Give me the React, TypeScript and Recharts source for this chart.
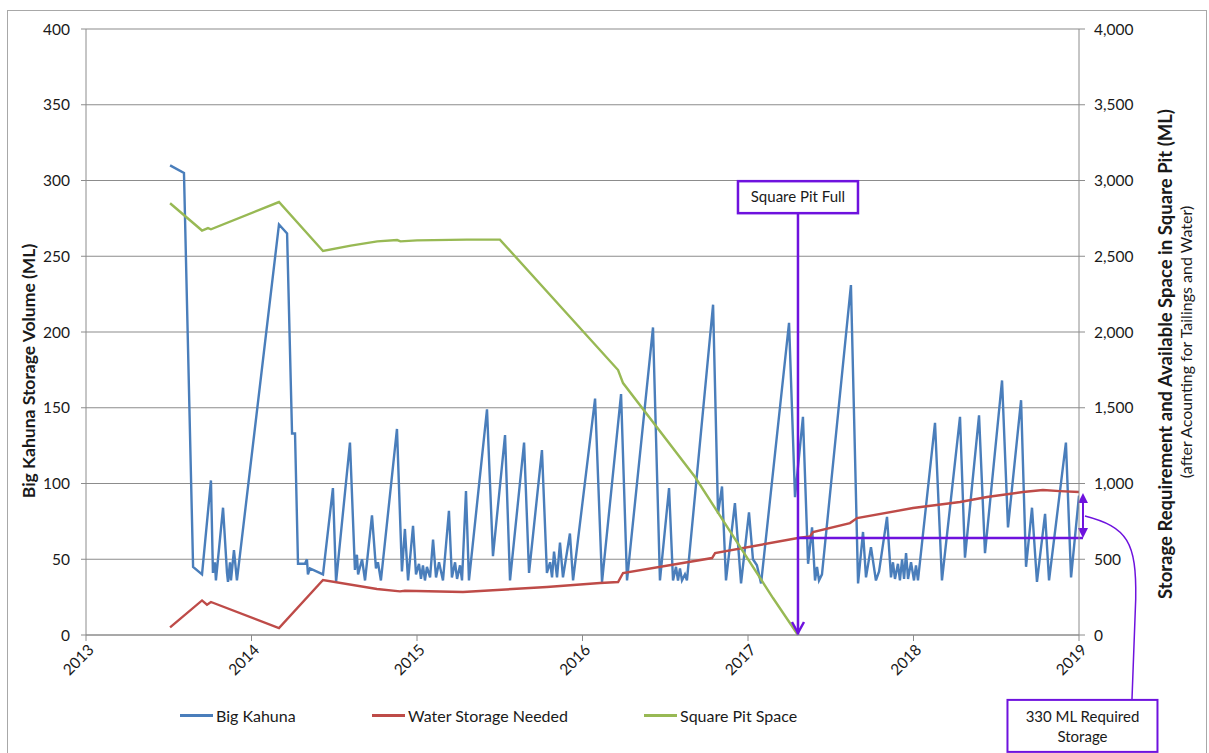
import React from 'react';
import {
  LineChart,
  Line,
  XAxis,
  YAxis,
  CartesianGrid,
  Legend,
  ReferenceLine,
  ReferenceDot,
} from 'recharts';

// ---------- data ----------
const yearTicks = [2013, 2014, 2015, 2016, 2017, 2018, 2019];
const leftTicks = [0, 50, 100, 150, 200, 250, 300, 350, 400];
const rightTicks = [0, 500, 1000, 1500, 2000, 2500, 3000, 3500, 4000];

const kahunaYears = [
  2013.508, 2013.592, 2013.647, 2013.701, 2013.755, 2013.767, 2013.779, 2013.785, 2013.828, 2013.852,
  2013.858, 2013.87, 2013.876, 2013.894, 2013.912, 2014.166, 2014.215, 2014.245, 2014.263, 2014.281,
  2014.323, 2014.335, 2014.341, 2014.353, 2014.432, 2014.492, 2014.511, 2014.595, 2014.625, 2014.637,
  2014.644, 2014.668, 2014.686, 2014.728, 2014.752, 2014.764, 2014.782, 2014.879, 2014.909, 2014.927,
  2014.946, 2014.976, 2014.994, 2015.012, 2015.024, 2015.036, 2015.048, 2015.06, 2015.079, 2015.097,
  2015.115, 2015.133, 2015.157, 2015.193, 2015.211, 2015.23, 2015.242, 2015.26, 2015.272, 2015.296,
  2015.314, 2015.423, 2015.459, 2015.532, 2015.562, 2015.647, 2015.677, 2015.755, 2015.785, 2015.804,
  2015.816, 2015.828, 2015.846, 2015.864, 2015.882, 2015.924, 2015.943, 2016.076, 2016.118, 2016.233,
  2016.269, 2016.426, 2016.468, 2016.523, 2016.547, 2016.565, 2016.577, 2016.589, 2016.601, 2016.619,
  2016.631, 2016.789, 2016.819, 2016.843, 2016.867, 2016.921, 2016.958, 2017.006, 2017.03, 2017.054,
  2017.079, 2017.248, 2017.284, 2017.332, 2017.363, 2017.387, 2017.405, 2017.417, 2017.429, 2017.447,
  2017.622, 2017.665, 2017.695, 2017.713, 2017.743, 2017.773, 2017.792, 2017.84, 2017.864, 2017.876,
  2017.888, 2017.906, 2017.918, 2017.931, 2017.943, 2017.955, 2017.967, 2017.985, 2018.003, 2018.015,
  2018.027, 2018.13, 2018.172, 2018.281, 2018.311, 2018.396, 2018.432, 2018.535, 2018.571, 2018.65,
  2018.68, 2018.716, 2018.746, 2018.795, 2018.819, 2018.921, 2018.952, 2019.0,
];
const kahunaValues = [
  310, 305, 45, 40, 102, 41, 48, 36, 84, 41,
  35, 48, 36, 56, 36, 271, 265, 133, 133, 47,
  47, 50, 40, 44, 40, 97, 35, 127, 43, 53,
  40, 50, 36, 79, 44, 48, 36, 136, 42, 70,
  36, 72, 40, 47, 37, 46, 36, 45, 38, 63,
  38, 48, 36, 82, 38, 48, 37, 46, 36, 95,
  36, 149, 52, 132, 36, 127, 41, 122, 41, 48,
  38, 55, 38, 61, 38, 67, 36, 156, 35, 159,
  36, 203, 36, 97, 36, 45, 36, 44, 36, 40,
  36, 218, 80, 98, 36, 87, 34, 81, 50, 46,
  34, 206, 91, 144, 47, 71, 36, 45, 36, 40,
  231, 34, 68, 38, 58, 36, 42, 78, 38, 48,
  37, 47, 36, 50, 37, 54, 37, 48, 36, 46,
  36, 140, 36, 144, 51, 145, 54, 168, 71, 155,
  45, 84, 35, 80, 36, 127, 38, 92,
];

const waterYears = [
  2013.508, 2013.701, 2013.731, 2013.755, 2014.166, 2014.432, 2014.758, 2014.897, 2014.927, 2015.278,
  2015.785, 2016.106, 2016.215, 2016.245, 2016.783, 2016.801, 2017.302, 2017.375, 2017.393, 2017.616,
  2017.659, 2017.997, 2018.281, 2018.444, 2018.661, 2018.782, 2018.885, 2019.0,
];
const waterValues = [
  50, 228, 200, 218, 45, 363, 304, 288, 292, 284,
  317, 343, 350, 409, 508, 541, 640, 650, 680, 739,
  772, 838, 878, 911, 944, 957, 950, 944,
];

const pitYears = [
  2013.508, 2013.701, 2013.737, 2013.755, 2014.166, 2014.432, 2014.6, 2014.76, 2014.88, 2014.9,
  2015.0, 2015.3, 2015.501, 2016.215, 2016.245, 2016.68, 2017.151, 2017.302,
];
const pitValues = [
  2850, 2670, 2686, 2678, 2858, 2535, 2570, 2598, 2607, 2598,
  2605, 2610, 2610, 1749, 1663, 1043, 244, 0,
];

const seriesNames = ['Big Kahuna', 'Water Storage Needed', 'Square Pit Space'];

// annotation values
const pitFullYear = 2017.302;
const pitFullLineTop = 278; // left axis
const pitFullBoxCenter = 289; // left axis
const requiredLow = 640; // right axis
const requiredHigh = 937; // right axis
const requiredArrowYear = 2019.024;
const calloutStart = { x: 2019.036, y: 785 };
const calloutEnd = { x: 2019.32, y: -429 };
const requiredBoxCenter = { x: 2019.021, y: -600 };

const kahunaData = kahunaYears.map((x, i) => ({ x, y: kahunaValues[i] }));
const waterData = waterYears.map((x, i) => ({ x, y: waterValues[i] }));
const pitData = pitYears.map((x, i) => ({ x, y: pitValues[i] }));

// ---------- styles ----------
const FONT = 'Lato, "Open Sans", sans-serif';
const BLUE = '#4A7EBB';
const RED = '#BE4B48';
const GREEN = '#98B954';
const PURPLE = '#6E12DE';
const GRID = '#8C8C8C';
const TEXT = '#1a1a1a';

const XTick = (props: any) => {
  const { x, y, payload } = props;
  const ax = x + 5;
  const ay = y + 4;
  return (
    <text
      x={ax}
      y={ay}
      transform={`rotate(-45 ${ax} ${ay})`}
      textAnchor="end"
      dy="0.35em"
      fontSize={15.5}
      fontFamily={FONT}
      fill={TEXT}
    >
      {payload.value}
    </text>
  );
};

const LeftTitle = () => (
  <text
    x={0}
    y={0}
    transform="translate(35 371) rotate(-90)"
    textAnchor="middle"
    fontSize={17.5}
    fontWeight={700}
    fontFamily={FONT}
    fill={TEXT}
  >
    Big Kahuna Storage Volume (ML)
  </text>
);

const RightTitle = () => (
  <g>
    <text
      x={0}
      y={0}
      transform="translate(1172 354) rotate(-90)"
      textAnchor="middle"
      fontSize={18.5}
      fontWeight={700}
      fontFamily={FONT}
      fill={TEXT}
    >
      Storage Requirement and Available Space in Square Pit (ML)
    </text>
    <text
      x={0}
      y={0}
      transform="translate(1192 342) rotate(-90)"
      textAnchor="middle"
      fontSize={16}
      fontFamily={FONT}
      fill={TEXT}
    >
      (after Acounting for Tailings and Water)
    </text>
  </g>
);

const DownArrow = (p: any) => {
  const { x1, y1, x2, y2 } = p;
  return (
    <g>
      <line x1={x1} y1={y1} x2={x2} y2={y2} stroke={PURPLE} strokeWidth={2.5} />
      <polyline
        points={`${x2 - 6},${y2 - 13} ${x2},${y2 - 2} ${x2 + 6},${y2 - 13}`}
        fill="none"
        stroke={PURPLE}
        strokeWidth={2.5}
      />
    </g>
  );
};

const PlainLine = (p: any) => {
  const { x1, y1, x2, y2 } = p;
  return <line x1={x1} y1={y1} x2={x2} y2={y2} stroke={PURPLE} strokeWidth={2.5} />;
};

const DoubleArrow = (p: any) => {
  const { x1, y1, x2, y2 } = p;
  const top = Math.min(y1, y2);
  const bot = Math.max(y1, y2);
  const x = x1;
  return (
    <g>
      <line x1={x} y1={top + 8} x2={x2} y2={bot - 8} stroke={PURPLE} strokeWidth={2} />
      <polygon points={`${x},${top} ${x - 5},${top + 10} ${x + 5},${top + 10}`} fill={PURPLE} />
      <polygon points={`${x},${bot} ${x - 5},${bot - 10} ${x + 5},${bot - 10}`} fill={PURPLE} />
    </g>
  );
};

const Callout = (p: any) => {
  const { x1, y1, x2, y2 } = p;
  const dx = x2 - x1;
  const dy = y2 - y1;
  const d = `M ${x1} ${y1} C ${x1 + 0.9 * dx} ${y1 + 0.06 * dy}, ${x1 + 1.1 * dx} ${
    y1 + 0.14 * dy
  }, ${x1 + 1.08 * dx} ${y1 + 0.45 * dy} L ${x2} ${y2}`;
  return <path d={d} fill="none" stroke={PURPLE} strokeWidth={1.5} />;
};

const PitFullBox = (p: any) => {
  const { cx, cy } = p;
  const w = 120;
  const h = 32;
  return (
    <g>
      <rect x={cx - w / 2} y={cy - h / 2} width={w} height={h} fill="#fff" stroke={PURPLE} strokeWidth={2.5} />
      <text x={cx} y={cy} dy="0.35em" textAnchor="middle" fontSize={15} fontFamily={FONT} fill={TEXT}>
        Square Pit Full
      </text>
    </g>
  );
};

const RequiredBox = (p: any) => {
  const { cx, cy } = p;
  const w = 150;
  const h = 52;
  return (
    <g>
      <rect x={cx - w / 2} y={cy - h / 2} width={w} height={h} fill="#fff" stroke={PURPLE} strokeWidth={2} />
      <text x={cx} y={cy - 9} dy="0.35em" textAnchor="middle" fontSize={15} fontFamily={FONT} fill={TEXT}>
        330 ML Required
      </text>
      <text x={cx} y={cy + 11} dy="0.35em" textAnchor="middle" fontSize={15} fontFamily={FONT} fill={TEXT}>
        Storage
      </text>
    </g>
  );
};

const legendX = [180, 372, 644];

const LegendContent = (props: any) => {
  const { payload = [] } = props;
  const ordered = seriesNames
    .map((n) => payload.find((p: any) => p.value === n))
    .filter(Boolean);
  return (
    <div style={{ position: 'relative', width: 1209, height: 24, fontFamily: FONT }}>
      {ordered.map((item: any, i: number) => (
        <div
          key={item.value}
          style={{
            position: 'absolute',
            left: legendX[i],
            top: 0,
            display: 'flex',
            alignItems: 'center',
            height: 24,
            fontSize: 16,
            color: TEXT,
            whiteSpace: 'nowrap',
          }}
        >
          <span
            style={{ display: 'inline-block', width: 33, height: 3, background: item.color, marginRight: 3 }}
          />
          {item.value}
        </div>
      ))}
    </div>
  );
};

export default function App() {
  return (
    <div
      style={{
        position: 'absolute',
        left: 0,
        top: 0,
        width: 1209,
        height: 753,
        background: '#fff',
        overflow: 'hidden',
        fontFamily: FONT,
      }}
    >
      <div style={{ position: 'absolute', left: 0, top: 0 }}>
        <LineChart width={1209} height={753} margin={{ top: 29, right: 70, bottom: 58, left: 36 }}>
          <CartesianGrid vertical={false} yAxisId="left" stroke={GRID} strokeWidth={1.2} />
          <XAxis
            type="number"
            dataKey="x"
            domain={[2013, 2019]}
            ticks={yearTicks}
            allowDataOverflow
            height={60}
            tick={<XTick />}
            tickSize={6}
            tickMargin={2}
            stroke={GRID}
            interval={0}
          />
          <YAxis
            yAxisId="left"
            domain={[0, 400]}
            ticks={leftTicks}
            width={50}
            tickSize={5}
            tickMargin={11}
            stroke={GRID}
            tick={{ fontSize: 15.5, fontFamily: FONT, fill: TEXT }}
            interval={0}
            label={LeftTitle}
          />
          <YAxis
            yAxisId="right"
            orientation="right"
            domain={[0, 4000]}
            ticks={rightTicks}
            width={60}
            tickSize={6}
            tickMargin={9}
            stroke={GRID}
            tick={{ fontSize: 15.5, fontFamily: FONT, fill: TEXT }}
            tickFormatter={(v: number) => v.toLocaleString('en-US')}
            interval={0}
            label={RightTitle}
          />
          <Legend
            verticalAlign="middle"
            align="center"
            layout="horizontal"
            wrapperStyle={{ top: 703, left: 0, width: 1209, height: 24 }}
            content={LegendContent}
          />
          <Line
            yAxisId="left"
            data={kahunaData}
            dataKey="y"
            name={seriesNames[0]}
            type="linear"
            stroke={BLUE}
            strokeWidth={2.4}
            dot={false}
            isAnimationActive={false}
          />
          <Line
            yAxisId="right"
            data={waterData}
            dataKey="y"
            name={seriesNames[1]}
            type="linear"
            stroke={RED}
            strokeWidth={2.4}
            dot={false}
            isAnimationActive={false}
          />
          <Line
            yAxisId="right"
            data={pitData}
            dataKey="y"
            name={seriesNames[2]}
            type="linear"
            stroke={GREEN}
            strokeWidth={2.4}
            dot={false}
            isAnimationActive={false}
          />
          <ReferenceLine
            yAxisId="left"
            segment={[
              { x: pitFullYear, y: pitFullLineTop },
              { x: pitFullYear, y: 0 },
            ]}
            ifOverflow="visible"
            shape={DownArrow}
          />
          <ReferenceLine
            yAxisId="right"
            segment={[
              { x: pitFullYear, y: requiredLow },
              { x: requiredArrowYear, y: requiredLow },
            ]}
            ifOverflow="visible"
            shape={PlainLine}
          />
          <ReferenceLine
            yAxisId="right"
            segment={[
              { x: requiredArrowYear, y: requiredHigh },
              { x: requiredArrowYear, y: requiredLow },
            ]}
            ifOverflow="visible"
            shape={DoubleArrow}
          />
          <ReferenceLine
            yAxisId="right"
            segment={[calloutStart, calloutEnd]}
            ifOverflow="visible"
            shape={Callout}
          />
          <ReferenceDot
            yAxisId="left"
            x={pitFullYear}
            y={pitFullBoxCenter}
            r={1}
            ifOverflow="visible"
            shape={PitFullBox}
          />
          <ReferenceDot
            yAxisId="right"
            x={requiredBoxCenter.x}
            y={requiredBoxCenter.y}
            r={1}
            ifOverflow="visible"
            shape={RequiredBox}
          />
        </LineChart>
      </div>
      <div
        style={{
          position: 'absolute',
          left: 7,
          top: 10,
          width: 1200,
          height: 780,
          border: '1px solid #a8a8a8',
          boxSizing: 'border-box',
          pointerEvents: 'none',
        }}
      />
    </div>
  );
}
